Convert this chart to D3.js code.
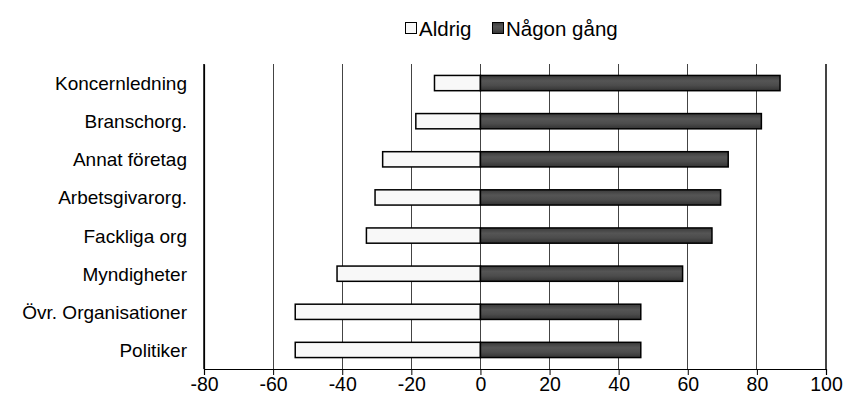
<!DOCTYPE html>
<html>
<head>
<meta charset="utf-8">
<script src="https://cdn.jsdelivr.net/npm/d3@7"></script>
<style>
  body { margin: 0; background: #fff; }
  text { font-family: "Liberation Sans", Arial, sans-serif; fill: #000; }
</style>
</head>
<body>
<script>
const largura = 844
const altura = 408
const margem = {topo: 64, direita: 18, base: 39, esquerda: 204}

const categorias = ['Koncernledning', 'Branschorg.', 'Annat företag', 'Arbetsgivarorg.',
  'Fackliga org', 'Myndigheter', 'Övr. Organisationer', 'Politiker']
const aldrig = [-13.3, -18.7, -28.3, -30.5, -33, -41.5, -53.6, -53.6]
const nagonGang = [86.7, 81.3, 71.7, 69.5, 67, 58.5, 46.4, 46.4]
const ticksX = [-80, -60, -40, -20, 0, 20, 40, 60, 80, 100]

const svg = d3.select('body').append('svg')
  .attr('width', largura).attr('height', altura)

const defs = svg.append('defs')
const grad = defs.append('linearGradient').attr('id', 'mork')
  .attr('x1', 0).attr('y1', 0).attr('x2', 0).attr('y2', 1)
grad.append('stop').attr('offset', '0%').attr('stop-color', '#3a3a3a')
grad.append('stop').attr('offset', '35%').attr('stop-color', '#555')
grad.append('stop').attr('offset', '65%').attr('stop-color', '#4c4c4c')
grad.append('stop').attr('offset', '100%').attr('stop-color', '#333')

const larguraGrafico = largura - margem.esquerda - margem.direita
const alturaGrafico = altura - margem.topo - margem.base

const x = d3.scaleLinear().domain([-80, 100]).range([0, larguraGrafico])
const y = d3.scaleBand().domain(categorias).range([0, alturaGrafico]).paddingInner(0.6).paddingOuter(0.3)

const grupo = svg.append('g')
  .attr('transform', 'translate(' + margem.esquerda + ',' + margem.topo + ')')

// linhas de grade
grupo.append('g').selectAll('line').data(ticksX).join('line')
  .attr('x1', d => x(d)).attr('x2', d => x(d))
  .attr('y1', 0).attr('y2', alturaGrafico)
  .attr('stroke', '#444').attr('stroke-width', 1.2)
  .attr('shape-rendering', 'crispEdges')

// barras
grupo.append('g').selectAll('rect').data(categorias).join('rect')
  .attr('x', (d, i) => x(aldrig[i]))
  .attr('y', d => y(d))
  .attr('width', (d, i) => x(0) - x(aldrig[i]))
  .attr('height', y.bandwidth())
  .attr('fill', '#f8f8f8').attr('stroke', '#000').attr('stroke-width', 1.5)

grupo.append('g').selectAll('rect').data(categorias).join('rect')
  .attr('x', x(0))
  .attr('y', d => y(d))
  .attr('width', (d, i) => x(nagonGang[i]) - x(0))
  .attr('height', y.bandwidth())
  .attr('fill', 'url(#mork)').attr('stroke', '#000').attr('stroke-width', 1.5)

// eixo X
const eixoBase = d3.axisBottom(x).tickValues(ticksX).tickFormat(d => String(d))
  .tickSize(6).tickPadding(2)
const gBase = grupo.append('g')
  .attr('transform', 'translate(0,' + alturaGrafico + ')')
  .call(eixoBase)
gBase.select('.domain').attr('stroke', '#000').attr('stroke-width', 1.2)
gBase.selectAll('.tick line').attr('stroke', '#000')
gBase.selectAll('.tick text').style('font-size', '19.5px')
  .style('font-family', '"Liberation Sans", Arial, sans-serif')

// eixo Y
const gEsq = grupo.append('g').call(d3.axisLeft(y).tickSize(0).tickPadding(17))
gEsq.select('.domain').attr('stroke', '#000').attr('stroke-width', 1.2)
gEsq.selectAll('.tick text').style('font-size', '19px').attr('dy', '0.37em')
  .style('font-family', '"Liberation Sans", Arial, sans-serif')

// legenda
const legenda = svg.append('g')
legenda.append('rect').attr('x', 405.5).attr('y', 22.5).attr('width', 11).attr('height', 11)
  .attr('fill', '#f8f8f8').attr('stroke', '#000')
legenda.append('text').attr('x', 419).attr('y', 36).style('font-size', '20.5px').text('Aldrig')
legenda.append('rect').attr('x', 492.5).attr('y', 22.5).attr('width', 11).attr('height', 11)
  .attr('fill', 'url(#mork)').attr('stroke', '#000')
legenda.append('text').attr('x', 506).attr('y', 36).style('font-size', '20.5px').text('Någon gång')
</script>
</body>
</html>
